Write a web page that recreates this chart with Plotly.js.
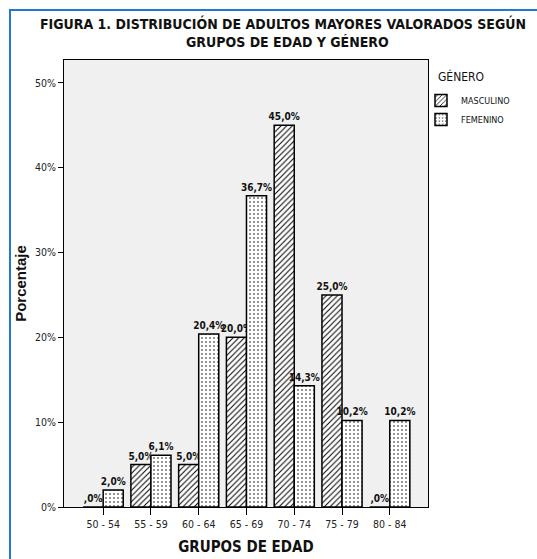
<!DOCTYPE html>
<html><head><meta charset="utf-8">
<script src="https://cdn.plot.ly/plotly-3.0.1.min.js"></script>
<style>
html,body{margin:0;padding:0;background:#fff;}
#wrap{position:relative;width:537px;height:559px;overflow:hidden;}
#chart{width:537px;height:559px;}
#frame{position:absolute;left:9px;top:9px;width:700px;height:700px;border-left:2px solid #1f78d1;border-top:2px solid #1f78d1;pointer-events:none;}
</style></head>
<body><div id="wrap"><div id="chart"></div><div id="frame"></div></div>
<script>
const categories = ["50 - 54","55 - 59","60 - 64","65 - 69","70 - 74","75 - 79","80 - 84"];
const masculino = [0, 5.0, 5.0, 20.0, 45.0, 25.0, 0];
const femenino = [2.0, 6.1, 20.4, 36.7, 14.3, 10.2, 10.2];
const yTicks = [0, 10, 20, 30, 40, 50];

const NARROW = '"DejaVu Sans Condensed", "Liberation Sans Narrow", "Arial Narrow", sans-serif';
function fmt(v){ let s = v.toFixed(1).replace('.', ','); if (s.startsWith('0')) s = s.slice(1); return s + '%'; }

const common = {
  type: 'bar', x: categories, textposition: 'outside', cliponaxis: false,
  constraintext: 'none',
  textfont: {family: NARROW, size: 10, color: '#111', weight: 'bold'},
  hoverinfo: 'skip'
};
const traces = [
  Object.assign({}, common, {
    name: 'MASCULINO', y: masculino, text: masculino.map(fmt),
    marker: {color: 'white', line: {color: 'black', width: 1.5},
      pattern: {shape: '/', fgcolor: 'black', bgcolor: 'white', size: 4, solidity: 0.25}}
  }),
  Object.assign({}, common, {
    name: 'FEMENINO', y: femenino, text: femenino.map(fmt),
    marker: {color: 'white', line: {color: 'black', width: 1.5},
      pattern: {shape: '.', fgcolor: 'black', bgcolor: 'white', size: 4, solidity: 0.12}}
  })
];

const layout = {
  width: 537, height: 559,
  margin: {l: 64, r: 109, t: 60, b: 52},
  paper_bgcolor: 'white', plot_bgcolor: '#f0f0f0',
  barmode: 'group', bargap: 0.16, bargroupgap: 0,
  showlegend: true,
  title: {text: '<b>FIGURA 1. DISTRIBUCIÓN DE ADULTOS MAYORES VALORADOS SEGÚN</b>',
    font: {family: NARROW, size: 14, color: '#111'},
    x: 283/537, xref: 'container', xanchor: 'center', y: 1 - 24/559, yanchor: 'middle', yref: 'container'},
  annotations: [
    {text: '<b>GRUPOS DE EDAD Y GÉNERO</b>', xref: 'paper', yref: 'paper',
     x: (287-64)/364, y: 1 + (60-42)/447, xanchor: 'center', yanchor: 'middle', showarrow: false,
     font: {family: NARROW, size: 14, color: '#111'}},
    {text: 'GÉNERO', xref: 'paper', yref: 'paper', x: (436-64)/364, y: 1 - (76-60)/447,
     xanchor: 'left', yanchor: 'middle', showarrow: false,
     font: {family: NARROW, size: 12, color: '#111'}}
  ],
  legend: {x: (421-64)/364, y: 1 - (86-60)/447, xanchor: 'left', yanchor: 'top',
    font: {family: NARROW, size: 9, color: '#111'}, bgcolor: 'rgba(0,0,0,0)',
    itemwidth: 30, tracegroupgap: 0, itemclick: false},
  xaxis: {
    type: 'category', range: [-0.82, 6.8], showgrid: false, zeroline: false,
    showline: true, mirror: true, linecolor: 'black', linewidth: 1,
    ticks: 'outside', ticklen: 7, tickcolor: 'black', tickwidth: 1,
    tickfont: {family: NARROW, size: 10.5, color: '#222'},
    title: {text: '<b>GRUPOS DE EDAD</b>', font: {family: NARROW, size: 15, color: '#111'}, standoff: 12}
  },
  yaxis: {
    range: [0, 52.7], tickvals: yTicks, ticktext: yTicks.map(v => v + '%'),
    showgrid: false, zeroline: false,
    showline: true, mirror: true, linecolor: 'black', linewidth: 1,
    ticks: 'outside', ticklen: 5, tickcolor: 'black',
    tickfont: {family: NARROW, size: 10.5, color: '#222'},
    title: {text: '<b>Porcentaje</b>', font: {family: '"Liberation Sans", Arial, sans-serif', size: 15, color: '#111'}, standoff: 4}
  }
};
Plotly.newPlot('chart', traces, layout, {staticPlot: true, displayModeBar: false});
</script></body></html>
